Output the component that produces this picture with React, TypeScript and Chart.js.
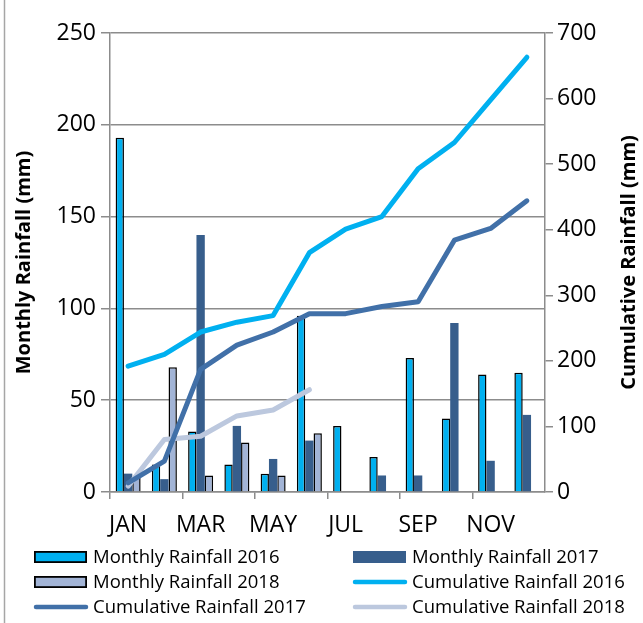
import React, { useEffect, useRef } from 'react';
import { Chart, registerables } from 'chart.js';

Chart.register(...registerables);

const months = ['JAN', 'FEB', 'MAR', 'APR', 'MAY', 'JUN', 'JUL', 'AUG', 'SEP', 'OCT', 'NOV', 'DEC'];
const monthly2016 = [193, 15, 33, 15, 10, 96, 36, 19, 73, 40, 64, 65];
const monthly2017 = [10, 7, 140, 36, 18, 28, 0, 9, 9, 92, 17, 42];
const monthly2018 = [8, 68, 9, 27, 9, 32, null, null, null, null, null, null];
const cumulative2016 = [192, 210, 244, 259, 269, 365, 401, 420, 493, 533, 598, 663];
const cumulative2017 = [14, 47, 187, 224, 244, 272, 272, 283, 290, 384, 402, 444];
const cumulative2018 = [9, 80, 85, 116, 125, 156, null, null, null, null, null, null];

const FONT = '"Open Sans"';
const GRID = '#8c8c8c';

const legendPlugin = {
  id: 'customLegend',
  afterDraw(chart: any) {
    const ctx = chart.ctx as CanvasRenderingContext2D;
    ctx.save();
    // frame line at left edge
    ctx.strokeStyle = '#a6a6a6';
    ctx.lineWidth = 1.5;
    ctx.beginPath();
    ctx.moveTo(4.5, 0);
    ctx.lineTo(4.5, chart.height);
    ctx.stroke();

    // right axis title (reads bottom to top)
    const area = chart.chartArea;
    ctx.fillStyle = '#000';
    ctx.font = `bold 20px ${FONT}`;
    ctx.textAlign = 'center';
    ctx.textBaseline = 'middle';
    ctx.translate(629, (area.top + area.bottom) / 2);
    ctx.rotate(-Math.PI / 2);
    ctx.fillText('Cumulative Rainfall (mm)', 0, 0);
    ctx.restore();

    ctx.save();
    const cols = [34, 353];
    const rows = [557, 582, 607];
    const ds = chart.data.datasets;
    const ordered = [...ds.filter((d: any) => d.type === 'bar'), ...ds.filter((d: any) => d.type === 'line')];
    ordered.forEach((d: any, i: number) => {
      const x = cols[i % 2];
      const y = rows[Math.floor(i / 2)];
      if (d.type === 'bar') {
        ctx.fillStyle = d.backgroundColor;
        ctx.fillRect(x, y - 6, 53, 12);
        if (d.borderWidth > 0) {
          ctx.strokeStyle = '#000';
          ctx.lineWidth = 1.8;
          ctx.strokeRect(x + 0.9, y - 5.1, 51.2, 10.2);
        }
      } else {
        ctx.strokeStyle = d.borderColor;
        ctx.lineWidth = 4.5;
        ctx.lineCap = 'round';
        ctx.beginPath();
        ctx.moveTo(x + 2, y);
        ctx.lineTo(x + 52, y);
        ctx.stroke();
      }
      ctx.fillStyle = '#000';
      ctx.font = `18.5px ${FONT}`;
      ctx.textAlign = 'left';
      ctx.textBaseline = 'middle';
      ctx.fillText(d.label, x + 59, y + 1);
    });
    ctx.restore();
  },
};

export default function App() {
  const ref = useRef<HTMLCanvasElement>(null);
  useEffect(() => {
    if (!ref.current) return;
    const chart = new Chart(ref.current, {
      type: 'bar',
      data: {
        labels: months,
        datasets: [
          {
            type: 'bar', label: 'Monthly Rainfall 2016', data: monthly2016, yAxisID: 'y',
            backgroundColor: '#00B0F0', borderColor: '#000', borderWidth: 1.5, order: 1,
            categoryPercentage: 0.69, barPercentage: 1,
          },
          {
            type: 'bar', label: 'Monthly Rainfall 2017', data: monthly2017, yAxisID: 'y',
            backgroundColor: '#375E8C', borderColor: '#375E8C', borderWidth: 0, order: 1,
            categoryPercentage: 0.69, barPercentage: 1,
          },
          {
            type: 'bar', label: 'Monthly Rainfall 2018', data: monthly2018, yAxisID: 'y',
            backgroundColor: '#A2B4D6', borderColor: '#000', borderWidth: 1.5, order: 1,
            categoryPercentage: 0.69, barPercentage: 1,
          },
          {
            type: 'line', label: 'Cumulative Rainfall 2016', data: cumulative2016, yAxisID: 'y1',
            borderColor: '#00B0F0', backgroundColor: '#00B0F0', borderWidth: 5, pointRadius: 0,
            borderCapStyle: 'round', borderJoinStyle: 'round', tension: 0, order: 0,
          },
          {
            type: 'line', label: 'Cumulative Rainfall 2017', data: cumulative2017, yAxisID: 'y1',
            borderColor: '#4170A8', backgroundColor: '#4170A8', borderWidth: 5, pointRadius: 0,
            borderCapStyle: 'round', borderJoinStyle: 'round', tension: 0, order: 0,
          },
          {
            type: 'line', label: 'Cumulative Rainfall 2018', data: cumulative2018, yAxisID: 'y1',
            borderColor: '#BCC8DE', backgroundColor: '#BCC8DE', borderWidth: 5, pointRadius: 0,
            borderCapStyle: 'round', borderJoinStyle: 'round', tension: 0, order: 0,
          },
        ] as any,
      },
      options: {
        responsive: false,
        animation: false,
        layout: { padding: { top: 33, bottom: 81, left: 0, right: 0 } },
        plugins: { legend: { display: false }, tooltip: { enabled: false } },
        scales: {
          x: {
            type: 'category',
            offset: true,
            grid: {
              offset: true,
              drawOnChartArea: false,
              tickLength: 7,
              lineWidth: 1.5,
              color: (c: any) => (c.index !== undefined && c.index % 2 === 0 ? GRID : 'transparent'),
            },
            border: { color: GRID, width: 1.5 },
            ticks: {
              autoSkip: false,
              maxRotation: 0,
              padding: 13,
              color: '#000',
              font: { family: FONT, size: 23 },
              callback: (_v: any, i: number) => (i % 2 === 0 ? months[i] : ''),
            },
            afterFit: (s: any) => { s.height = 50; },
          },
          y: {
            position: 'left',
            min: 0,
            max: 250,
            ticks: { stepSize: 50, padding: 5, color: '#000', font: { family: FONT, size: 23 } },
            grid: { color: GRID, lineWidth: 1.5, tickLength: 9 },
            border: { color: GRID, width: 1.5 },
            title: {
              display: true,
              text: 'Monthly Rainfall (mm)',
              color: '#000',
              font: { family: FONT, size: 20, weight: 'bold' },
              padding: { top: 12, bottom: 0 },
            },
            afterFit: (s: any) => { s.width = 110; },
          },
          y1: {
            position: 'right',
            min: 0,
            max: 700,
            ticks: { stepSize: 100, padding: 4, color: '#000', font: { family: FONT, size: 23 } },
            grid: { drawOnChartArea: false, color: GRID, lineWidth: 1.5, tickLength: 8 },
            border: { color: GRID, width: 1.5 },
            afterFit: (s: any) => { s.width = 98; },
          },
        },
      } as any,
      plugins: [legendPlugin],
    });
    return () => chart.destroy();
  }, []);
  return (
    <div style={{ position: 'fixed', left: 0, top: 0, width: 643, height: 623, background: '#fff' }}>
      <canvas ref={ref} width={643} height={623} style={{ display: 'block' }} />
    </div>
  );
}
